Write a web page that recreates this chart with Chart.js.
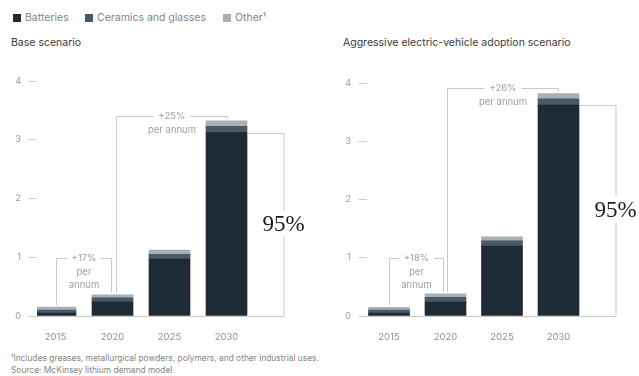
<!DOCTYPE html>
<html>
<head>
<meta charset="utf-8">
<script src="https://cdn.jsdelivr.net/npm/chart.js@4"></script>
<style>
  body { margin: 0; background: #fff; font-family: Inter, "Open Sans", sans-serif; }
  #wrap { position: relative; width: 639px; height: 376px; overflow: hidden; }
  .legend { position: absolute; top: 12px; font-size: 10.5px; color: #858585; white-space: nowrap; line-height: 12px; }
  .legend i { display: inline-block; width: 8px; height: 8px; margin-right: 4px; vertical-align: -0.5px; }
  .title { position: absolute; top: 37px; font-size: 10.5px; color: #3a3a3a; line-height: 12px; }
  .note { position: absolute; left: 11px; font-size: 8.4px; color: #858585; line-height: 12px; white-space: nowrap; }
  canvas { position: absolute; }
</style>
</head>
<body>
<div id="wrap">
  <div class="legend" style="left:13px"><i style="background:#1e2a36"></i>Batteries</div>
  <div class="legend" style="left:85px"><i style="background:#4b5966"></i>Ceramics and glasses</div>
  <div class="legend" style="left:223px"><i style="background:#a8afb6"></i>Other¹</div>
  <div class="title" style="left:11px">Base scenario</div>
  <div class="title" style="left:343px">Aggressive electric-vehicle adoption scenario</div>
  <canvas id="base" width="320" height="290" style="left:0;top:60px"></canvas>
  <canvas id="ev" width="319" height="290" style="left:320px;top:60px"></canvas>
  <div class="note" style="top:352px">¹Includes greases, metallurgical powders, polymers, and other industrial uses.<br>Source: McKinsey lithium demand model</div>
</div>
<script>
const years = [2015, 2020, 2025, 2030];
const yTicks = [0, 1, 2, 3, 4];

const baseBatteries = [0.05, 0.24, 0.97, 3.12];
const baseCeramics = [0.05, 0.07, 0.08, 0.11];
const baseOther = [0.05, 0.05, 0.07, 0.09];

const evBatteries = [0.05, 0.24, 1.20, 3.62];
const evCeramics = [0.05, 0.08, 0.09, 0.11];
const evOther = [0.05, 0.06, 0.07, 0.09];

const baseGrowth = ['+17%', '+25%'];
const evGrowth = ['+18%', '+26%'];
const batteryShare = '95%';

const colors = ['#1e2a36', '#4b5966', '#a8afb6'];
const names = ['Batteries', 'Ceramics and glasses', 'Other'];
const font = 'Inter, "Open Sans", sans-serif';

// brackets, arrows and the big share number
const notesPlugin = {
  id: 'notes',
  afterDatasetsDraw(chart, args, o) {
    const ctx = chart.ctx;
    const xs = chart.scales.x, ys = chart.scales.y;
    const ds = chart.data.datasets;
    const total = i => ds.reduce((s, d) => s + d.data[i].y, 0);
    const cx = i => xs.getPixelForValue(years[i]);
    const y0 = ys.getPixelForValue(0);
    const last = years.length - 1;
    const barRight = cx(last) + 20.5;
    const bx = cx(last) + 57;

    ctx.save();
    ctx.strokeStyle = '#c8c8c8';
    ctx.lineWidth = 1;

    // baseline
    ctx.beginPath();
    ctx.moveTo(chart.chartArea.left, Math.round(y0) + 0.5);
    ctx.lineTo(bx + 0.5, Math.round(y0) + 0.5);
    ctx.stroke();

    // growth brackets
    o.growth.forEach(g => {
      const x1 = Math.round(cx(g.from) + g.dx1) + 0.5;
      const x2 = Math.round(cx(g.to) + g.dx2) + 0.5;
      const yt = Math.round(ys.getPixelForValue(g.level)) + 0.5;
      const b1 = ys.getPixelForValue(total(g.from)) - 2;
      const b2 = ys.getPixelForValue(total(g.to)) - 2;
      ctx.beginPath();
      ctx.moveTo(x1, b1);
      ctx.lineTo(x1, yt);
      ctx.lineTo(x2, yt);
      ctx.lineTo(x2, b2);
      ctx.stroke();
      ctx.font = '9.5px ' + font;
      ctx.textAlign = 'center';
      ctx.textBaseline = 'middle';
      const mx = (x1 + x2) / 2;
      g.lines.forEach((t, k) => {
        const ty = yt + k * 13.5;
        if (k === 0) {
          const w = ctx.measureText(t).width + 10;
          ctx.fillStyle = '#fff';
          ctx.fillRect(mx - w / 2, ty - 5, w, 10);
        }
        ctx.fillStyle = '#a0a0a0';
        ctx.fillText(t, mx, ty);
      });
    });

    // share bracket
    const yb = Math.round(ys.getPixelForValue(ds[0].data[last].y)) + 0.5;
    ctx.beginPath();
    ctx.moveTo(barRight, yb);
    ctx.lineTo(bx + 0.5, yb);
    ctx.lineTo(bx + 0.5, Math.round(y0) + 0.5);
    ctx.stroke();
    ctx.font = '23px "Liberation Serif", "DejaVu Serif", serif';
    const my = (yb + y0) / 2;
    const tw = ctx.measureText(o.share).width + 4;
    ctx.fillStyle = '#fff';
    ctx.fillRect(bx - tw / 2, my - 14, tw, 26);
    ctx.fillStyle = '#1c1c1c';
    ctx.textAlign = 'center';
    ctx.textBaseline = 'middle';
    ctx.fillText(o.share, bx, my);
    ctx.restore();
  }
};

function makeChart(id, series, area, growth) {
  const canvas = document.getElementById(id);
  const span = (area.right - area.left) / area.pxPerYear;
  const xmin = years[0] - (area.firstX - area.left) / area.pxPerYear;
  return new Chart(canvas, {
    type: 'bar',
    data: {
      datasets: series.map((vals, k) => ({
        label: names[k],
        data: vals.map((v, i) => ({ x: years[i], y: v })),
        backgroundColor: colors[k],
        borderWidth: 0,
        barThickness: 41
      }))
    },
    options: {
      responsive: false,
      animation: false,
      layout: { padding: { top: area.top, right: canvas.width - area.right, left: 0, bottom: 0 } },
      plugins: {
        legend: { display: false },
        tooltip: { enabled: false },
        notes: { growth: growth, share: batteryShare }
      },
      scales: {
        x: {
          type: 'linear',
          stacked: true,
          offset: false,
          min: xmin,
          max: xmin + span,
          grid: { display: false, offset: false },
          border: { display: false },
          afterBuildTicks: s => { s.ticks = years.map(v => ({ value: v })); },
          afterFit: s => { s.height = canvas.height - area.bottom; },
          ticks: {
            padding: 7,
            color: '#909090',
            font: { size: 9.5, family: font },
            callback: v => String(v)
          }
        },
        y: {
          stacked: true,
          min: 0,
          max: 4,
          afterBuildTicks: s => { s.ticks = yTicks.map(v => ({ value: v })); },
          afterFit: s => { s.width = area.left; },
          grid: { drawOnChartArea: false, drawTicks: true, tickLength: 9, color: '#d0d0d0' },
          border: { display: false },
          ticks: {
            padding: 7,
            color: '#999',
            font: { size: 9, family: font }
          }
        }
      }
    },
    plugins: [notesPlugin]
  });
}

makeChart('base', [baseBatteries, baseCeramics, baseOther],
  { left: 37, right: 283, top: 21, bottom: 256, firstX: 55.5, pxPerYear: 11.4 },
  [
    { from: 0, to: 1, dx1: 0, dx2: -2, level: 0.98, lines: [baseGrowth[0], 'per', 'annum'] },
    { from: 1, to: 3, dx1: 3, dx2: 0, level: 3.4, lines: [baseGrowth[1], 'per annum'] }
  ]);

makeChart('ev', [evBatteries, evCeramics, evOther],
  { left: 47, right: 295, top: 23, bottom: 256, firstX: 69, pxPerYear: 11.3 },
  [
    { from: 0, to: 1, dx1: 0, dx2: -2, level: 0.99, lines: [evGrowth[0], 'per', 'annum'] },
    { from: 1, to: 3, dx1: 2, dx2: 0, level: 3.91, lines: [evGrowth[1], 'per annum'] }
  ]);
</script>
</body>
</html>
